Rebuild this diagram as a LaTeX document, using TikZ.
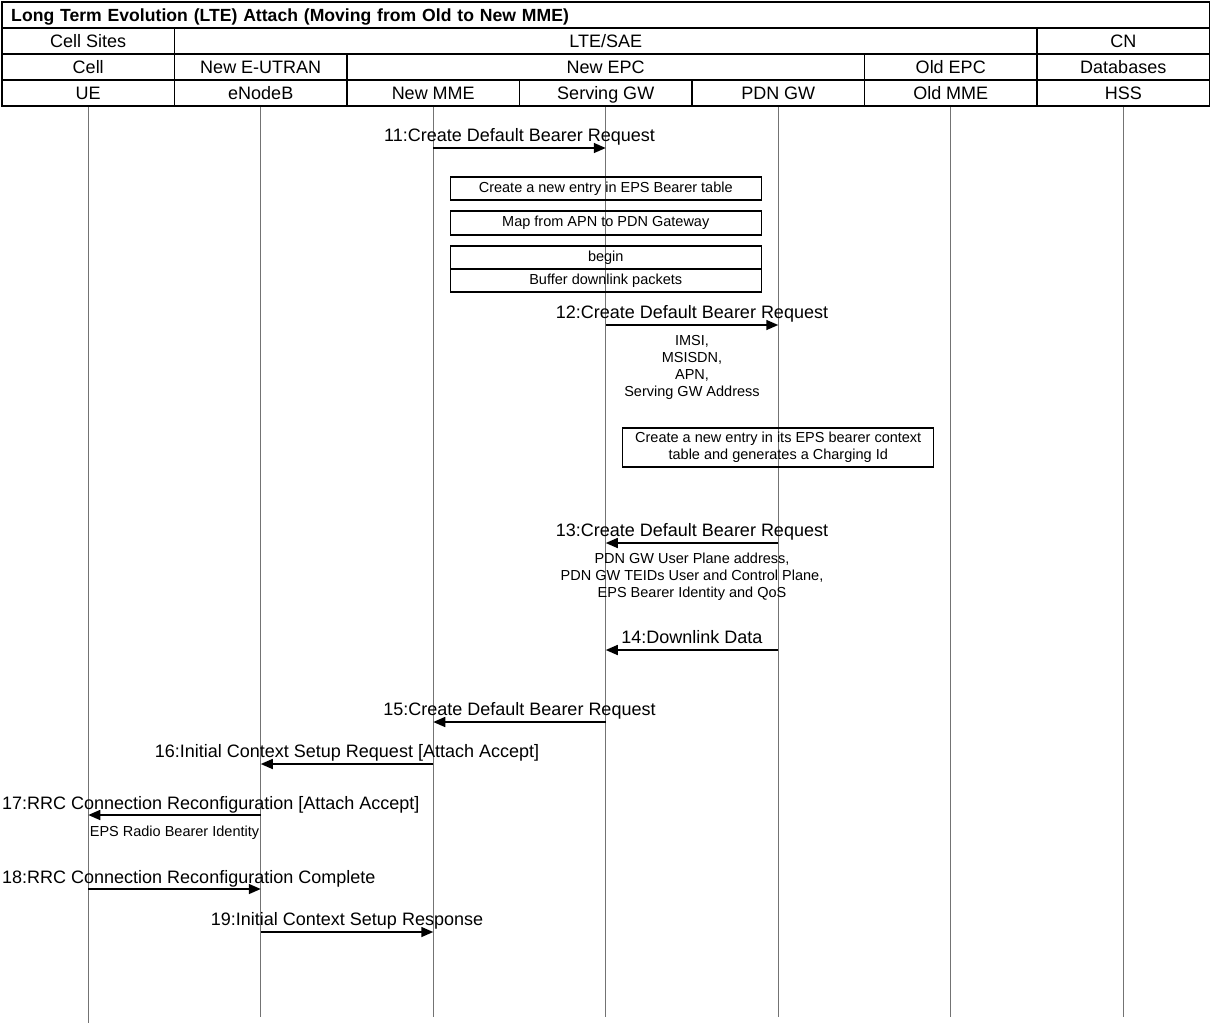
\documentclass[tikz,border=0pt]{standalone}
\usepackage{fontspec}
\setmainfont{Liberation Sans}
\usepackage{tikz}
\usetikzlibrary{positioning,arrows.meta}

\newcommand{\lblfont}{\fontsize{18}{20}\selectfont}
\newcommand{\notefont}{\fontsize{14.5}{17}\selectfont}

\tikzset{
  hcell/.style={draw, line width=1.6pt, minimum width=172.5pt, minimum height=26pt, inner sep=0pt, text height=13pt, text depth=0pt, font=\lblfont},
  life/.style={draw=black!55, line width=0.6pt},
  msg/.style={->, line width=1.6pt},
  mlabel/.style={font=\lblfont, inner sep=0pt, text height=13pt, text depth=3.8pt},
  note/.style={font=\notefont, align=center, inner sep=0pt},
  actbox/.style={draw, line width=1.4pt, minimum width=311pt, minimum height=23pt, inner sep=0pt, font=\notefont, align=center},
}

\begin{document}
\begin{tikzpicture}[x=1pt,y=-1pt,>={Triangle[length=12pt,width=10pt]}]
\useasboundingbox (0,0) rectangle (1211,1023);
%% header
\node (ttl) at (605.75,15) [hcell,minimum width=1207.5pt,text width=1189pt,align=left,font=\fontsize{17.6}{20}\selectfont\bfseries] {Long Term Evolution (LTE) Attach (Moving from Old to New MME)};
  \node (cellsites) at (88.25,41) [hcell] {Cell Sites};
  \node (ltesae) at (605.75,41) [hcell,minimum width=862.5pt] {LTE/SAE};
  \node (cn) at (1123.25,41) [hcell] {CN};
  \node (cell) at (88.25,67) [hcell] {Cell};
  \node (eutran) at (260.75,67) [hcell] {New E-UTRAN};
  \node (newepc) at (605.75,67) [hcell,minimum width=517.5pt] {New EPC};
  \node (oldepc) at (950.75,67) [hcell] {Old EPC};
  \node (db) at (1123.25,67) [hcell] {Databases};
  \node (ue) at (88.25,93) [hcell] {UE};
  \node (enb) at (260.75,93) [hcell] {eNodeB};
  \node (mme) at (433.25,93) [hcell] {New MME};
  \node (sgw) at (605.75,93) [hcell] {Serving GW};
  \node (pgw) at (778.25,93) [hcell] {PDN GW};
  \node (oldmme) at (950.75,93) [hcell] {Old MME};
  \node (hss) at (1123.25,93) [hcell] {HSS};
%% lifelines
\coordinate (bot) at (0,1017);
  \coordinate (uebot) at (0,1023);
  \draw [life] (ue.south) -- (ue |- uebot);
  \foreach \n in {enb,mme,sgw,pgw,oldmme,hss}
    \draw [life] (\n.south) -- (\n |- bot);
%% message rows
\coordinate (y11) at (0,148);
  \coordinate (y12) at (0,325);
  \coordinate (y13) at (0,543);
  \coordinate (y14) at (0,650);
  \coordinate (y15) at (0,722);
  \coordinate (y16) at (0,764);
  \coordinate (y17) at (0,815);
  \coordinate (y18) at (0,889);
  \coordinate (y19) at (0,932);
%% messages
\draw [msg] (mme |- y11) -- (sgw |- y11) node (m11) [mlabel,midway,above=2pt] {11:Create Default Bearer Request};
  \node (eps) at (605.75,188.5) [actbox] {Create a new entry in EPS Bearer table};
  \node (apn) at (605.75,223) [actbox,minimum height=24pt] {Map from APN to PDN Gateway};
  \node (begin) at (605.75,257.5) [actbox] {begin};
  \node (buffer) at (605.75,280.5) [actbox] {Buffer downlink packets};
  \draw [msg] (sgw |- y12) -- (pgw |- y12)
    node (m12) [mlabel,midway,above=2pt] {12:Create Default Bearer Request}
    node (n12) [note,midway,below=10pt] {IMSI,\\MSISDN,\\APN,\\Serving GW Address};
  \node (ctx) at (778.25,447.5) [actbox,minimum height=39pt] {Create a new entry in its EPS bearer context\\table and generates a Charging Id};
  \draw [msg] (pgw |- y13) -- (sgw |- y13)
    node (m13) [mlabel,midway,above=2pt] {13:Create Default Bearer Request}
    node (n13) [note,midway,below=9pt] {PDN GW User Plane address,\\PDN GW TEIDs User and Control Plane,\\EPS Bearer Identity and QoS};
  \draw [msg] (pgw |- y14) -- (sgw |- y14) node (m14) [mlabel,midway,above=2pt] {14:Downlink Data};
  \draw [msg] (sgw |- y15) -- (mme |- y15) node (m15) [mlabel,midway,above=2pt] {15:Create Default Bearer Request};
  \draw [msg] (mme |- y16) -- (enb |- y16) node (m16) [mlabel,midway,above=2pt] {16:Initial Context Setup Request [Attach Accept]};
  \draw [msg] (enb |- y17) -- (ue |- y17) node (n17) [note,midway,below=10pt] {EPS Radio Bearer Identity};
  \node (m17) at (2,813) [mlabel,anchor=south west] {17:RRC Connection Reconfiguration [Attach Accept]};
  \draw [msg] (ue |- y18) -- (enb |- y18);
  \node (m18) at (2,887) [mlabel,anchor=south west] {18:RRC Connection Reconfiguration Complete};
  \draw [msg] (enb |- y19) -- (mme |- y19) node (m19) [mlabel,midway,above=2pt] {19:Initial Context Setup Response};
%
\end{tikzpicture}
\end{document}
